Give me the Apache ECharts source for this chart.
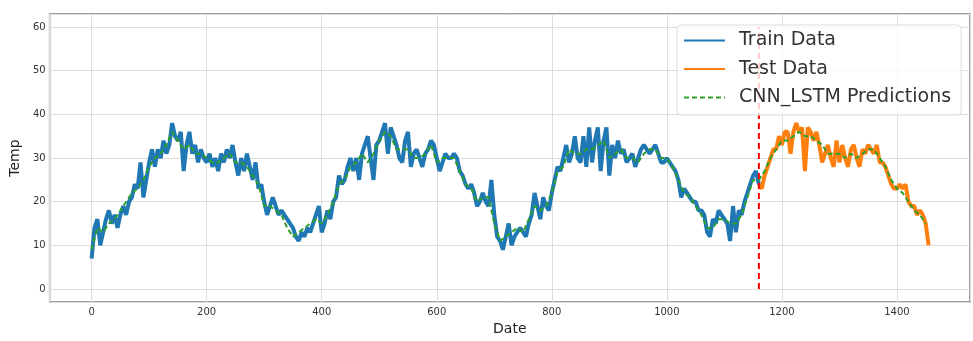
<!DOCTYPE html>
<html>
<head>
<meta charset="utf-8">
<script src="https://cdn.jsdelivr.net/npm/echarts@6/dist/echarts.min.js"></script>
<style>
  html, body { margin: 0; padding: 0; background: #fff; }
  #chart { width: 973px; height: 341px; }
</style>
</head>
<body>
<div id="chart"></div>
<script>
// days between samples in the arrays below
const dataStep = 5
const predStep = 10
const trainStart = 0
const testStart = 1160
const splitDay = 1160
const splitRange = [0, 60]

// train temperatures, one value every 5 days from day 0
const trainTemp = [
  7, 14, 16, 10, 13, 16, 18, 15, 17, 14,
  17, 19, 17, 20, 21, 24, 23, 29, 21, 25,
  29, 32, 28, 32, 30, 34, 31, 33, 38, 35,
  34, 36, 27, 33, 36, 31, 33, 29, 32, 30,
  29, 31, 28, 30, 27, 31, 29, 32, 30, 33,
  29, 26, 30, 27, 31, 28, 25, 29, 23, 24,
  20, 17, 19, 21, 19, 17, 18, 17, 16, 15,
  14, 12, 11, 13, 12, 14, 13, 15, 17, 19,
  13, 15, 18, 16, 20, 21, 26, 24, 25, 28,
  30, 27, 30, 25, 31, 33, 35, 30, 25, 33,
  34, 36, 38, 31, 37, 35, 33, 30, 29, 34,
  36, 28, 31, 32, 30, 28, 31, 32, 34, 33,
  30, 27, 29, 31, 30, 30, 31, 30, 27, 26,
  24, 23, 24, 22, 19, 20, 22, 20, 19, 25,
  17, 12, 11, 9, 12, 15, 10, 12, 13, 14,
  13, 12, 15, 17, 22, 19, 16, 21, 19, 18,
  22, 25, 28, 27, 30, 33, 29, 31, 35, 30,
  29, 35, 28, 37, 29, 34, 37, 27, 34, 37,
  26, 33, 30, 34, 31, 32, 29, 30, 31, 28,
  30, 32, 33, 32, 31, 32, 33, 31, 29, 29,
  30, 29, 28, 27, 25, 21, 23, 22, 21, 20,
  20, 18, 18, 17, 13, 12, 16, 15, 18, 17,
  16, 15, 11, 19, 13, 18, 17, 20, 22, 24,
  26, 27, 24
]

// test temperatures, one value every 5 days from day 1160
const testTemp = [
  24, 23, 26, 28, 30, 32, 32, 35, 33, 36,
  36, 31, 36, 38, 36, 37, 27, 37, 36, 34,
  36, 33, 29, 31, 33, 30, 28, 34, 29, 33,
  30, 28, 32, 33, 30, 28, 32, 31, 33, 32,
  31, 33, 29, 29, 28, 26, 24, 23, 23, 24,
  23, 24, 20, 19, 19, 17, 18, 17, 15, 10
]

// model predictions, one value every 10 days from day 0
const predTemp = [
  9, 14, 13, 15, 16, 18, 20, 22, 23, 25,
  28, 30, 31, 33, 36, 34, 32, 33, 31, 31,
  30, 29, 29, 30, 31, 29, 29, 28, 26, 24,
  19, 19, 18, 17, 14, 12, 13, 14, 15, 16,
  15, 17, 20, 24, 25, 28, 29, 31, 29, 31,
  34, 36, 35, 32, 32, 32, 30, 30, 31, 33,
  29, 30, 30, 30, 27, 24, 23, 20, 21, 21,
  15, 11, 12, 13, 14, 13, 16, 19, 18, 19,
  22, 27, 28, 32, 31, 31, 32, 32, 33, 34,
  30, 31, 32, 30, 30, 29, 31, 32, 32, 30,
  30, 28, 25, 22, 21, 19, 17, 14, 14, 16,
  16, 15, 15, 17, 21, 25, 25, 27, 30, 32,
  34, 34, 35, 36, 35, 35, 34, 33, 31, 31,
  31, 30, 31, 30, 31, 32, 32, 30, 28, 25,
  23, 22, 20, 18, 17, 15
]

const seriesNames = ['Train Data', 'Test Data', 'CNN_LSTM Predictions']

const fontFamily = 'DejaVu Sans'

const chart = echarts.init(document.getElementById('chart'), null, { renderer: 'canvas' })

const toPoints = (arr, start, step) => arr.map((v, i) => [start + i * step, v])

const option = {
  animation: false,
  backgroundColor: '#fff',
  textStyle: { fontFamily },
  grid: {
    left: 46,
    right: 1,
    top: 14,
    bottom: 27,
    show: true,
    borderColor: '#808080',
    borderWidth: 1.5,
    backgroundColor: 'transparent'
  },
  legend: {
    data: seriesNames,
    orient: 'vertical',
    left: 677,
    top: 25,
    z: 10,
    itemWidth: 41,
    itemHeight: 2,
    itemGap: 9.5,
    padding: [6, 10, 8, 6],
    // hide the marker so only the line sample shows
    itemStyle: { opacity: 0 },
    backgroundColor: 'rgba(255,255,255,0.8)',
    borderColor: '#dddddd',
    borderWidth: 1,
    borderRadius: 4,
    textStyle: {
      fontFamily,
      fontSize: 19,
      lineHeight: 19,
      color: '#333',
      padding: [0, 0, 0, 9]
    }
  },
  xAxis: {
    type: 'value',
    min: -73,
    max: 1527,
    splitNumber: 8,
    minInterval: 200,
    maxInterval: 200,
    name: 'Date',
    nameLocation: 'middle',
    nameGap: 18,
    nameTextStyle: { fontSize: 14, color: '#222', fontFamily },
    axisLine: { show: false },
    axisTick: { show: false },
    axisLabel: {
      fontSize: 10,
      color: '#333',
      margin: 5,
      formatter: (v) => (v % 200 === 0 ? String(v) : '')
    },
    splitLine: { show: true, lineStyle: { color: '#dddddd', width: 1 } }
  },
  yAxis: {
    type: 'value',
    min: -3,
    max: 63,
    splitNumber: 6,
    minInterval: 10,
    maxInterval: 10,
    name: 'Temp',
    nameLocation: 'middle',
    nameGap: 19,
    nameTextStyle: { fontSize: 14, color: '#222', fontFamily },
    axisLine: { show: false },
    axisTick: { show: false },
    axisLabel: {
      fontSize: 10,
      color: '#333',
      margin: 4,
      formatter: (v) => (v % 10 === 0 ? String(v) : '')
    },
    splitLine: { show: true, lineStyle: { color: '#dddddd', width: 1 } }
  },
  series: [
    {
      name: seriesNames[0],
      type: 'line',
      data: toPoints(trainTemp, trainStart, dataStep),
      symbol: 'none',
      color: '#1f77b4',
      lineStyle: { color: '#1f77b4', width: 4 },
      z: 2
    },
    {
      name: seriesNames[1],
      type: 'line',
      data: toPoints(testTemp, testStart, dataStep),
      symbol: 'none',
      color: '#ff7f0e',
      lineStyle: { color: '#ff7f0e', width: 4 },
      z: 2
    },
    {
      name: seriesNames[2],
      type: 'line',
      data: toPoints(predTemp, trainStart, predStep),
      symbol: 'none',
      color: '#2ca02c',
      lineStyle: { color: '#2ca02c', width: 2, type: [5, 3] },
      z: 3
    },
    {
      name: 'split',
      type: 'line',
      data: splitRange.map((v) => [splitDay, v]),
      symbol: 'none',
      color: '#ff0000',
      lineStyle: { color: '#ff0000', width: 2, type: [6, 4] },
      z: 3
    }
  ]
}

chart.setOption(option)
</script>
</body>
</html>
